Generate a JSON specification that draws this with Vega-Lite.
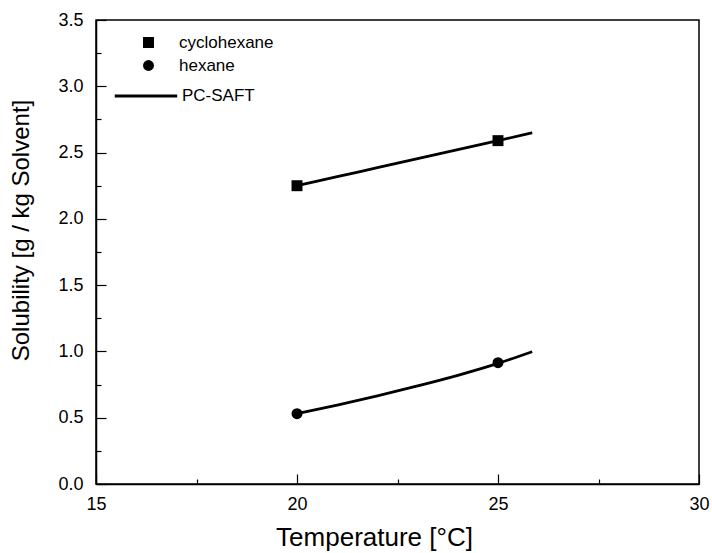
{
  "$schema": "https://vega.github.io/schema/vega-lite/v6.json",
  "width": 603,
  "height": 464,
  "autosize": "none",
  "padding": {"left": 96, "top": 20, "right": 13, "bottom": 69},
  "background": "white",
  "resolve": {"axis": {"x": "independent", "y": "independent"}},
  "config": {
    "view": {"stroke": "black", "strokeWidth": 1.5},
    "font": "Liberation Sans",
    "axis": {
      "grid": false,
      "ticks": true,
      "domainColor": "black",
      "domainWidth": 1.5,
      "tickColor": "black",
      "tickWidth": 1.2,
      "labelColor": "black",
      "labelFontSize": 18,
      "labelFlush": false,
      "labelOverlap": false,
      "titleColor": "black",
      "titleFontSize": 24,
      "titleFontWeight": "normal"
    }
  },
  "datasets": {
    "points": [
      {"T": 20, "S": 2.25, "series": "cyclohexane"},
      {"T": 25, "S": 2.59, "series": "cyclohexane"},
      {"T": 20, "S": 0.53, "series": "hexane"},
      {"T": 25, "S": 0.915, "series": "hexane"}
    ],
    "curves": [
      {"T": 20, "S": 2.25, "curve": "cyclohexane"},
      {"T": 21, "S": 2.318, "curve": "cyclohexane"},
      {"T": 22, "S": 2.386, "curve": "cyclohexane"},
      {"T": 23, "S": 2.454, "curve": "cyclohexane"},
      {"T": 24, "S": 2.522, "curve": "cyclohexane"},
      {"T": 25, "S": 2.59, "curve": "cyclohexane"},
      {"T": 25.85, "S": 2.65, "curve": "cyclohexane"},
      {"T": 20, "S": 0.53, "curve": "hexane"},
      {"T": 21, "S": 0.595, "curve": "hexane"},
      {"T": 22, "S": 0.665, "curve": "hexane"},
      {"T": 23, "S": 0.74, "curve": "hexane"},
      {"T": 24, "S": 0.82, "curve": "hexane"},
      {"T": 25, "S": 0.91, "curve": "hexane"},
      {"T": 25.85, "S": 0.998, "curve": "hexane"}
    ]
  },
  "layer": [
    {
      "data": {"name": "curves"},
      "mark": {"type": "line", "strokeWidth": 2.8, "interpolate": "monotone"},
      "encoding": {
        "x": {
          "field": "T",
          "type": "quantitative",
          "axis": {"orient": "bottom", "values": [17.5, 22.5, 27.5], "tickSize": -5, "labels": false, "domain": false, "title": null}
        },
        "y": {
          "field": "S",
          "type": "quantitative",
          "axis": {"orient": "left", "values": [0.25, 0.75, 1.25, 1.75, 2.25, 2.75, 3.25], "tickSize": -5, "labels": false, "domain": false, "title": null}
        },
        "detail": {"field": "curve", "type": "nominal"},
        "color": {
          "datum": "PC-SAFT",
          "type": "nominal",
          "scale": {"range": ["black"]},
          "legend": {
            "title": null,
            "orient": "none",
            "legendX": 17,
            "legendY": 43,
            "symbolType": "stroke",
            "symbolSize": 3900,
            "symbolStrokeWidth": 2.8,
            "symbolStrokeColor": "black",
            "labelFontSize": 17,
            "labelColor": "black",
            "labelOffset": 3
          }
        }
      }
    },
    {
      "data": {"name": "points"},
      "mark": {"type": "point", "filled": true, "color": "black", "size": 120, "opacity": 1},
      "encoding": {
        "x": {
          "field": "T",
          "type": "quantitative",
          "scale": {"domain": [15, 30], "nice": false, "zero": false},
          "axis": {
            "orient": "bottom",
            "title": "Temperature [°C]",
            "values": [15, 20, 25, 30],
            "tickSize": -10,
            "labelPadding": 21,
            "titlePadding": 11,
            "titleFontSize": 26,
            "titleX": 278
          }
        },
        "y": {
          "field": "S",
          "type": "quantitative",
          "scale": {"domain": [0, 3.5], "nice": false, "zero": true},
          "axis": {
            "orient": "left",
            "title": "Solubility [g / kg Solvent]",
            "values": [0, 0.5, 1, 1.5, 2, 2.5, 3, 3.5],
            "format": ".1f",
            "tickSize": -10,
            "labelPadding": 23,
            "titleX": -75,
            "titleY": 210,
            "titleAngle": 270,
            "titleAlign": "center",
            "titleBaseline": "middle"
          }
        },
        "shape": {
          "field": "series",
          "type": "nominal",
          "scale": {"domain": ["cyclohexane", "hexane"], "range": ["square", "circle"]},
          "legend": {
            "title": null,
            "orient": "none",
            "legendX": 44,
            "legendY": 14,
            "symbolSize": 120,
            "labelFontSize": 17,
            "labelColor": "black",
            "labelOffset": 22,
            "rowPadding": 5,
            "symbolFillColor": "black",
            "symbolOpacity": 1
          }
        }
      }
    }
  ]
}
